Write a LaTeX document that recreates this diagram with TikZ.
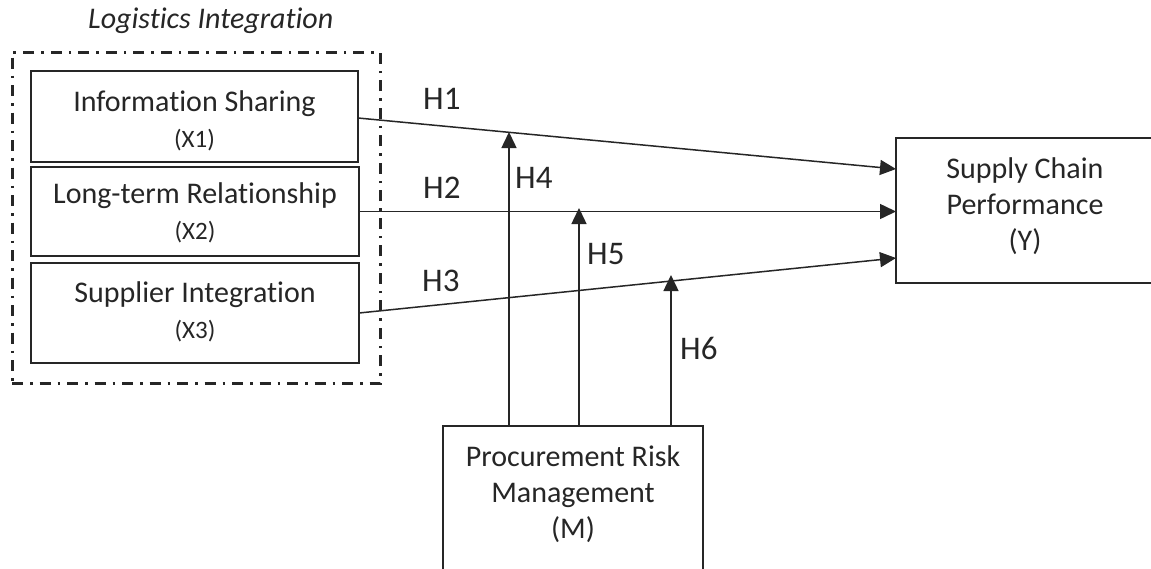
\documentclass[tikz,border=0pt]{standalone}
\usepackage{fontspec}
\setmainfont[Ligatures=NoCommon]{Carlito}
\usetikzlibrary{arrows.meta,calc}
\definecolor{ink}{HTML}{262626}
\begin{document}
\begin{tikzpicture}[x=1pt,y=-1pt,
  box/.style={draw=ink,line width=1.5pt,inner sep=0pt,outer sep=0pt},
  txt/.style={text=ink,align=center,font=\fontsize{30}{36}\selectfont,inner sep=0pt},
  hyp/.style={text=ink,font=\fontsize{33}{38}\selectfont,inner sep=0pt,anchor=base west},
  arr/.style={draw=ink,line width=1.5pt,-{Triangle[length=16pt,width=15pt]}},
  group/.style={draw=ink,line width=3pt,dash pattern=on 11pt off 7pt on 2.5pt off 7pt,inner sep=0pt}]
\useasboundingbox (0,0) rectangle (1151,568);
\fill[white] (0,0) rectangle (1151,568);
\clip (0,0) rectangle (1151,568);

% group frame
\node[group,minimum width=368pt,minimum height=331pt] (G) at (196,217.5) {};
\node[text=ink,font=\fontsize{30}{34}\selectfont\itshape,anchor=base west,inner sep=0pt] (title) at (88,28) {Logistics Integration};

% boxes
\node[box,minimum width=327pt,minimum height=91pt] (X1) at (194.5,116.5) {};
\node[box,minimum width=328pt,minimum height=89pt] (X2) at (195,211.5) {};
\node[box,minimum width=328pt,minimum height=100pt] (X3) at (195,313) {};
\node[box,minimum width=258pt,minimum height=145pt] (Y) at (1025,210.5) {};
\node[box,minimum width=260pt,minimum height=180pt] (M) at (573,516) {};

% texts
\node[txt] (X1t) at (194.5,121) {Information Sharing\\{\fontsize{25}{36}\selectfont (X1)}};
\node[txt] (X2t) at (195,213) {Long-term Relationship\\{\fontsize{25}{36}\selectfont (X2)}};
\node[txt] (X3t) at (195,311.5) {Supplier Integration\\{\fontsize{25}{36}\selectfont (X3)}};
\node[txt] (Yt) at (1025,206) {Supply Chain\\Performance\\(Y)};
\node[txt] (Mt) at (573,494) {Procurement Risk\\Management\\(M)};

% main paths
\draw[arr] ([yshift=-1.5pt]X1.east) -- ([yshift=41.5pt]Y.west);
\draw[arr] (X2.east) -- (X2.east -| Y.west);
\draw[arr] (X3.east) -- ([yshift=-47.5pt]Y.west);

% moderation
\coordinate (t4) at (509,132);
\coordinate (t5) at (579,208);
\coordinate (t6) at (671,275);
\draw[arr] (M.north -| t4) -- (t4);
\draw[arr] (M.north -| t5) -- (t5);
\draw[arr] (M.north -| t6) -- (t6);

% hypothesis labels
\node[hyp] (H1) at (423,109) {H1};
\node[hyp] (H2) at (423,198) {H2};
\node[hyp] (H3) at (422,291) {H3};
\node[hyp] (H4) at (515,188) {H4};
\node[hyp] (H5) at (587,264) {H5};
\node[hyp] (H6) at (680,359) {H6};
\end{tikzpicture}
\end{document}
